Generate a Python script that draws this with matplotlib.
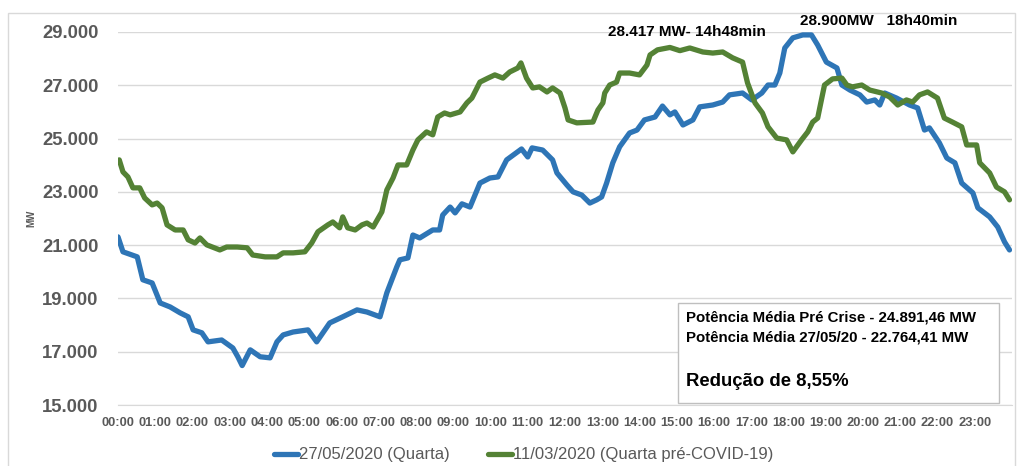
import matplotlib.pyplot as plt
from matplotlib.patches import Rectangle

# minutes since 00:00 and load in MW
blue_min = [0, 8, 31, 40, 55, 68, 84, 100, 113, 121, 135, 145, 167, 185, 193, 200,
            213, 229, 245, 256, 266, 282, 306, 320, 341, 362, 385, 401, 422, 433,
            449, 454, 467, 475, 486, 507, 518, 523, 535, 543, 554, 567, 583, 599,
            612, 626, 650, 660, 667, 684, 700, 707, 723, 733, 747, 760, 771, 779,
            787, 797, 808, 824, 836, 848, 865, 877, 889, 897, 910, 926, 937, 958,
            974, 985, 1006, 1021, 1037, 1047, 1058, 1066, 1074, 1087, 1103, 1117,
            1127, 1141, 1158, 1166, 1179, 1195, 1206, 1219, 1227, 1235, 1254, 1275,
            1288, 1299, 1307, 1323, 1335, 1348, 1359, 1377, 1385, 1404, 1417, 1428,
            1436]
blue_mw = [21310, 20750, 20560, 19700, 19580, 18830, 18680, 18460, 18310, 17820,
           17710, 17370, 17440, 17140, 16810, 16480, 17070, 16810, 16770, 17370,
           17630, 17740, 17820, 17370, 18080, 18310, 18570, 18490, 18310, 19210,
           20180, 20450, 20520, 21380, 21270, 21570, 21570, 22130, 22430, 22210,
           22550, 22430, 23330, 23520, 23560, 24200, 24610, 24310, 24650, 24570,
           24200, 23710, 23260, 23000, 22880, 22580, 22700, 22810, 23330, 24090,
           24690, 25210, 25320, 25700, 25810, 26220, 25890, 26000, 25510, 25700,
           26190, 26260, 26370, 26640, 26710, 26450, 26710, 27010, 27010, 27460,
           28400, 28780, 28890, 28890, 28510, 27870, 27650, 27010, 26820, 26640,
           26370, 26450, 26260, 26710, 26520, 26260, 26150, 25320, 25400, 24840,
           24270, 24090, 23330, 22960, 22400, 22060, 21680, 21120, 20820]

green_min = [2, 8, 16, 24, 35, 43, 55, 63, 71, 79, 92, 105, 113, 124, 132, 143, 164,
             175, 192, 208, 217, 237, 256, 266, 282, 301, 312, 322, 338, 346, 357,
             362, 370, 382, 393, 401, 411, 425, 433, 443, 451, 465, 475, 483, 497,
             507, 515, 526, 535, 551, 562, 570, 583, 596, 607, 620, 631, 644, 649,
             658, 668, 679, 691, 700, 712, 720, 725, 739, 765, 773, 781, 784, 792,
             803, 808, 824, 840, 852, 857, 869, 889, 905, 921, 942, 958, 974, 990,
             1006, 1014, 1026, 1038, 1047, 1061, 1077, 1087, 1101, 1111, 1119, 1127,
             1133, 1138, 1151, 1166, 1174, 1183, 1198, 1211, 1230, 1243, 1256, 1270,
             1280, 1291, 1304, 1320, 1331, 1344, 1359, 1367, 1383, 1388, 1404, 1415,
             1428, 1436]
green_mw = [24200, 23750, 23560, 23150, 23150, 22770, 22510, 22580, 22400, 21760,
            21570, 21570, 21200, 21080, 21270, 21010, 20820, 20930, 20930, 20900,
            20630, 20560, 20560, 20710, 20710, 20750, 21080, 21500, 21760, 21870,
            21650, 22060, 21650, 21570, 21760, 21830, 21680, 22250, 23070, 23520,
            24010, 24010, 24570, 24950, 25250, 25140, 25810, 25960, 25890, 26000,
            26340, 26520, 27120, 27270, 27390, 27270, 27500, 27650, 27840, 27270,
            26900, 26940, 26750, 26900, 26710, 26150, 25700, 25590, 25620, 26070,
            26340, 26710, 27010, 27120, 27460, 27460, 27390, 27760, 28140, 28330,
            28420, 28300, 28400, 28250, 28210, 28250, 28030, 27870, 27090, 26340,
            25960, 25440, 25020, 24950, 24500, 24950, 25250, 25620, 25770, 26450,
            27010, 27240, 27270, 27010, 26940, 27010, 26820, 26710, 26560, 26260,
            26450, 26370, 26640, 26750, 26520, 25770, 25620, 25440, 24760, 24760,
            24090, 23710, 23180, 23000, 22700]

hour_labels = ['%02d:00' % h for h in range(24)]
y_ticks = list(range(15000, 29001, 2000))

plt.rcParams['font.family'] = ['Liberation Sans', 'DejaVu Sans']

fig = plt.figure(figsize=(10.22, 4.66), dpi=100)
fig.patches.append(Rectangle((8 / 1022, -0.05), 1007 / 1022, 1 - 13 / 466 + 0.05,
                             transform=fig.transFigure, fill=False,
                             edgecolor='#d9d9d9', lw=1))
ax = fig.add_axes([118 / 1022, 1 - 405 / 466, 894 / 1022, 373 / 466])

ax.plot(blue_min, blue_mw, color='#2e75b6', lw=3.8, solid_joinstyle='round',
        solid_capstyle='round', label='27/05/2020 (Quarta)')
ax.plot(green_min, green_mw, color='#548235', lw=3.8, solid_joinstyle='round',
        solid_capstyle='round', label='11/03/2020 (Quarta pré-COVID-19)')

ax.set_xlim(0, 1440)
ax.set_ylim(15000, 29000)
ax.set_xticks(range(0, 1440, 60))
ax.set_xticklabels(hour_labels, fontsize=9.3, fontweight='bold', color='#595959')
ax.set_yticks(y_ticks)
ax.set_yticklabels(['{:,}'.format(v).replace(',', '.') for v in y_ticks],
                   fontsize=13.3, fontweight='bold', color='#595959')
ax.tick_params(axis='both', length=0)
ax.tick_params(axis='y', pad=14)
ax.tick_params(axis='x', pad=9)
ax.grid(axis='y', color='#d9d9d9', lw=1)
ax.set_axisbelow(True)
for s in ['top', 'right', 'left']:
    ax.spines[s].set_visible(False)
ax.spines['bottom'].set_color('#d9d9d9')
ax.set_ylabel('MW', fontsize=7, fontweight='bold', color='#595959', labelpad=4)

ax.text(0.548, 1.0, '28.417 MW- 14h48min', transform=ax.transAxes,
        fontsize=11, fontweight='bold', ha='left', va='center', clip_on=False)
ax.text(0.763, 1.03, '28.900MW   18h40min', transform=ax.transAxes,
        fontsize=11, fontweight='bold', ha='left', va='center', clip_on=False)

box = Rectangle((678 / 1022, 1 - 403 / 466), 321 / 1022, 100 / 466,
                transform=fig.transFigure, facecolor='white', edgecolor='#bfbfbf', lw=1)
fig.patches.append(box)
fig.text(686 / 1022, 1 - 318 / 466, 'Potência Média Pré Crise - 24.891,46 MW',
         fontsize=10.8, fontweight='bold', va='center')
fig.text(686 / 1022, 1 - 338 / 466, 'Potência Média 27/05/20 - 22.764,41 MW',
         fontsize=10.8, fontweight='bold', va='center')
fig.text(686 / 1022, 1 - 382 / 466, 'Redução de 8,55%',
         fontsize=13.3, fontweight='bold', va='center')

fig.legend(loc='center', bbox_to_anchor=(524 / 1022, 1 - 455 / 466), ncol=2,
           frameon=False, fontsize=12, handlelength=1.4, handletextpad=0.1,
           columnspacing=2.3, labelcolor='#595959')

fig.savefig('out.png', dpi=100)
